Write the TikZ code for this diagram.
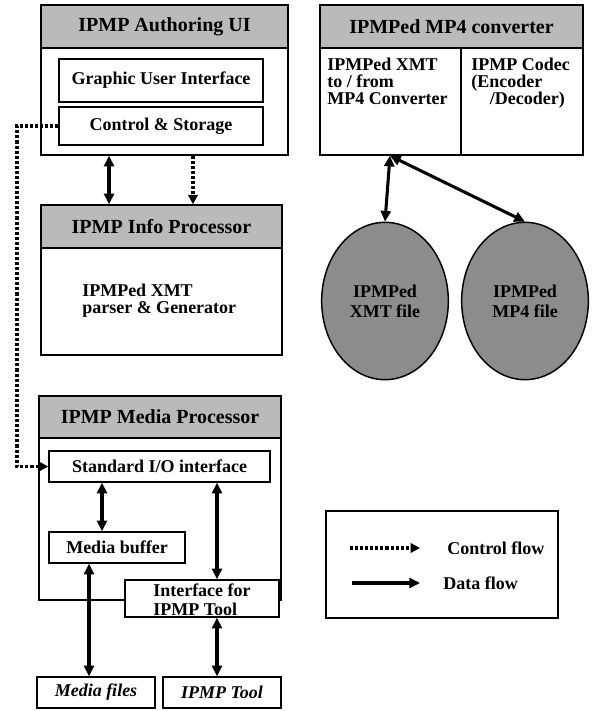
\documentclass[tikz,border=0pt]{standalone}
\usepackage{fontspec}
\setmainfont{Liberation Serif}
\usetikzlibrary{arrows.meta,fit,shapes.geometric}
\begin{document}
\begin{tikzpicture}[x=0.75pt,y=-0.75pt,
  box/.style={draw, line width=1.1pt, inner sep=0pt},
  hdr/.style={box, fill=black!27},
  wbox/.style={box, fill=white},
  hfont/.style={font=\fontsize{15}{14}\selectfont\bfseries, inner sep=0pt},
  txt/.style={font=\fontsize{13.5}{12.8}\selectfont\bfseries, inner sep=0pt},
  itxt/.style={font=\fontsize{13.5}{12.8}\selectfont\bfseries\itshape, inner sep=0pt},
  fileshape/.style={ellipse, draw, line width=1.1pt, fill=black!45, inner sep=0pt,
     minimum width=95pt, minimum height=118pt, align=center,
     font=\fontsize{13.5}{15}\selectfont\bfseries},
  data/.style={line width=2.3pt, {Triangle[length=8pt,width=7.5pt]}-{Triangle[length=8pt,width=7.5pt]}},
  dataone/.style={line width=2.3pt, -{Triangle[length=8pt,width=7.5pt]}},
  ctrl/.style={line width=2.4pt, dash pattern=on 2.3pt off 1.5pt, -{Triangle[length=7pt,width=7pt]}}
]
\useasboundingbox (0,0) rectangle (593,711);

% ---------- IPMP Authoring UI ----------
\node[box, fit={(41,5) (288,155)}] (auth) {};
\node[hdr, fit={(41,5) (288,48)}] (authh) {};
\node[hfont] (autht) at (authh.center) {IPMP Authoring UI};
\node[wbox, fit={(59,59) (263,102)}] (gui) {};
\node[txt] (guit) at (gui.center) {Graphic User Interface};
\node[wbox, fit={(59,107) (263,145)}] (ctrlst) {};
\node[txt] (ctrlt) at (ctrlst.center) {Control \& Storage};

% ---------- IPMP Info Processor ----------
\node[box, fit={(41,205) (282,355)}] (info) {};
\node[hdr, fit={(41,205) (282,248)}] (infoh) {};
\node[hfont] (infoht) at (infoh.center) {IPMP Info Processor};
\node[txt, anchor=west, align=left] (infot) at (82,301) {IPMPed XMT\\parser \& Generator};

% ---------- IPMP Media Processor ----------
\node[box, fit={(39,396) (281,600)}] (media) {};
\node[hdr, fit={(39,396) (281,438)}] (mediah) {};
\node[hfont] (mediaht) at (mediah.center) {IPMP Media Processor};
\node[wbox, fit={(49,451) (270,482)}] (stdio) {};
\node[txt] (stdiot) at (stdio.center) {Standard I/O interface};
\node[wbox, fit={(49,532) (185,563)}] (mbuf) {};
\node[txt] (mbuft) at (mbuf.center) {Media buffer};
\node[wbox, fit={(125,580) (279,617)}] (ifbox) {};
\node[txt, anchor=west, align=left, font=\fontsize{13.5}{14.2}\selectfont\bfseries] (ift) at (153,599.5) {Interface for\\IPMP Tool};
\node[wbox, fit={(37,677) (155,708)}] (mfiles) {};
\node[itxt] (mfilest) at (mfiles.center) {Media files};
\node[wbox, fit={(163,677) (281,708)}] (tool) {};
\node[itxt] (toolt) at (tool.center) {IPMP Tool};

% ---------- IPMPed MP4 converter ----------
\node[box, fit={(320,5) (583,155)}] (conv) {};
\node[hdr, fit={(320,5) (583,48)}] (convh) {};
\node[hfont] (convht) at (convh.center) {IPMPed MP4 converter};
\coordinate (divtop) at (461,48);
\coordinate (divbot) at (461,155);
\draw[line width=1.1pt] (divtop) -- (divbot);
\node[txt, anchor=north west, align=left] (convl) at (327,58) {IPMPed XMT\\to / from\\MP4 Converter};
\node[txt, anchor=north west, align=left] (convr) at (471,58) {IPMP Codec\\(Encoder\\\hspace*{14pt}/Decoder)};

\node[fileshape] (xmt) at (385,301) {IPMPed\\XMT file};
\node[fileshape] (mp4) at (525,301) {IPMPed\\MP4 file};

% ---------- Legend ----------
\node[box, fit={(326,511) (558,618)}] (legend) {};
\coordinate (lc1) at (350,548);
\coordinate (lc2) at (420,548);
\coordinate (ld1) at (352,583);
\coordinate (ld2) at (420,583);
\draw[ctrl] (lc1) -- (lc2);
\draw[dataone] (ld1) -- (ld2);
\node[txt, anchor=west] (lct) at (447,548) {Control flow};
\node[txt, anchor=west] (ldt) at (443,583) {Data flow};

% ---------- helper x positions ----------
\coordinate (x17) at (17,0);
\coordinate (x89) at (89,0);
\coordinate (x102) at (102,0);
\coordinate (x109) at (109,0);
\coordinate (x193) at (193,0);
\coordinate (x217) at (217,0);
\coordinate (x390) at (390,0);

% ---------- connectors ----------
\draw[data] (auth.south -| x109) -- (infoh.north -| x109);
\draw[ctrl] (auth.south -| x193) -- (infoh.north -| x193);
\draw[ctrl] (ctrlst.west) -- (ctrlst.west -| x17) |- (stdio.west);
\draw[data] (stdio.south -| x102) -- (mbuf.north -| x102);
\draw[data] (stdio.south -| x217) -- (ifbox.north -| x217);
\draw[data] (mbuf.south -| x89) -- (mfiles.north -| x89);
\draw[data] (ifbox.south -| x217) -- (tool.north -| x217);
\draw[data] (conv.south -| x390) -- (xmt.north);
\draw[data] (conv.south -| x390) -- (mp4.north);
\end{tikzpicture}
\end{document}
